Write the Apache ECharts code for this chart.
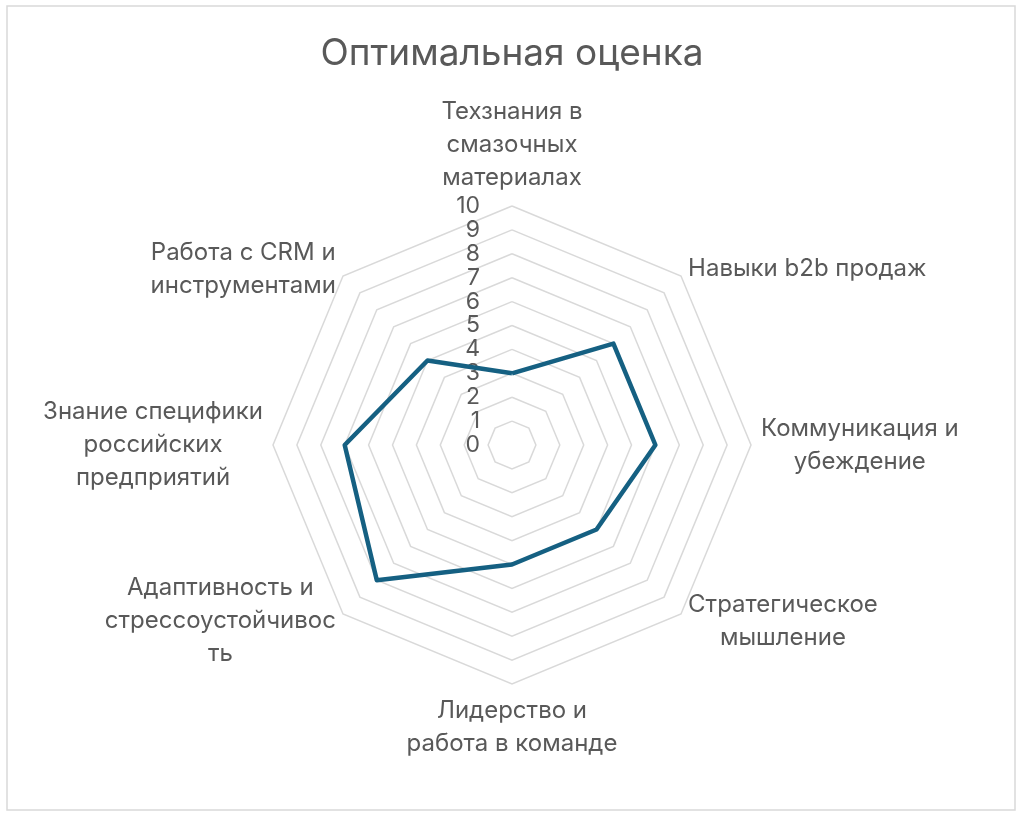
<!DOCTYPE html>
<html>
<head>
<meta charset="utf-8">
<script src="https://cdn.jsdelivr.net/npm/echarts@6/dist/echarts.min.js"></script>
<style>
  html, body { margin: 0; padding: 0; background: #fff; }
  #main { width: 1024px; height: 818px; }
</style>
</head>
<body>
<div id="main"></div>
<script>
var myChart = echarts.init(document.getElementById('main'));

// названия осей по часовой стрелке, начиная сверху (переносы как на картинке)
var axisNames = [
    'Техзнания в\nсмазочных\nматериалах',
    'Навыки b2b продаж',
    'Коммуникация и\nубеждение',
    'Стратегическое\nмышление',
    'Лидерство и\nработа в команде',
    'Адаптивность и\nстрессоустойчивос\nть',
    'Знание специфики\nроссийских\nпредприятий',
    'Работа с CRM и\nинструментами'
];
var scores = [3, 6, 6, 5, 5, 8, 7, 5];
var maxScore = 10;

var textColor = '#595959';
var fontFam = 'Inter, "Noto Sans", sans-serif';

// echarts рисует radar против часовой, поэтому переставляем порядок
var order = [0];
for (var k = axisNames.length - 1; k > 0; k--) order.push(k);

var indicators = order.map(function (idx) {
    var ind = { name: axisNames[idx], min: 0, max: maxScore };
    if (idx === 0) {
        ind.axisLabel = { show: true, color: textColor, fontSize: 23, fontFamily: fontFam, margin: 32 };
    }
    return ind;
});
var values = order.map(function (idx) { return scores[idx]; });

var option = {
    backgroundColor: '#fff',
    title: {
        text: 'Оптимальная оценка',
        left: 'center',
        top: 30,
        textStyle: {
            color: textColor,
            fontSize: 37,
            fontWeight: 'normal',
            fontFamily: fontFam
        }
    },
    graphic: [{
        type: 'rect',
        shape: { x: 7, y: 6, width: 1008, height: 804 },
        style: { fill: 'none', stroke: '#d9d9d9', lineWidth: 1.5 },
        silent: true
    }],
    radar: {
        center: [512, 445],
        radius: 239,
        startAngle: 90,
        splitNumber: 10,
        shape: 'polygon',
        indicator: indicators,
        axisName: {
            color: textColor,
            fontSize: 24,
            fontFamily: fontFam,
            lineHeight: 33,
            formatter: function (value) {
                return value.split('\n').map(function (s) {
                    return '{c|' + s + '}';
                }).join('\n');
            },
            rich: {
                c: { align: 'center', color: textColor, fontSize: 24, fontFamily: fontFam, lineHeight: 33 }
            }
        },
        nameGap: 10,
        axisLine: { show: false },
        axisTick: { show: false },
        axisLabel: { show: false },
        splitLine: { lineStyle: { color: '#d9d9d9', width: 1.5 } },
        splitArea: { show: false }
    },
    series: [{
        name: 'Оптимальная оценка',
        type: 'radar',
        symbol: 'none',
        lineStyle: { color: '#156082', width: 4.5 },
        data: [{ value: values }]
    }]
};

myChart.setOption(option);
</script>
</body>
</html>
